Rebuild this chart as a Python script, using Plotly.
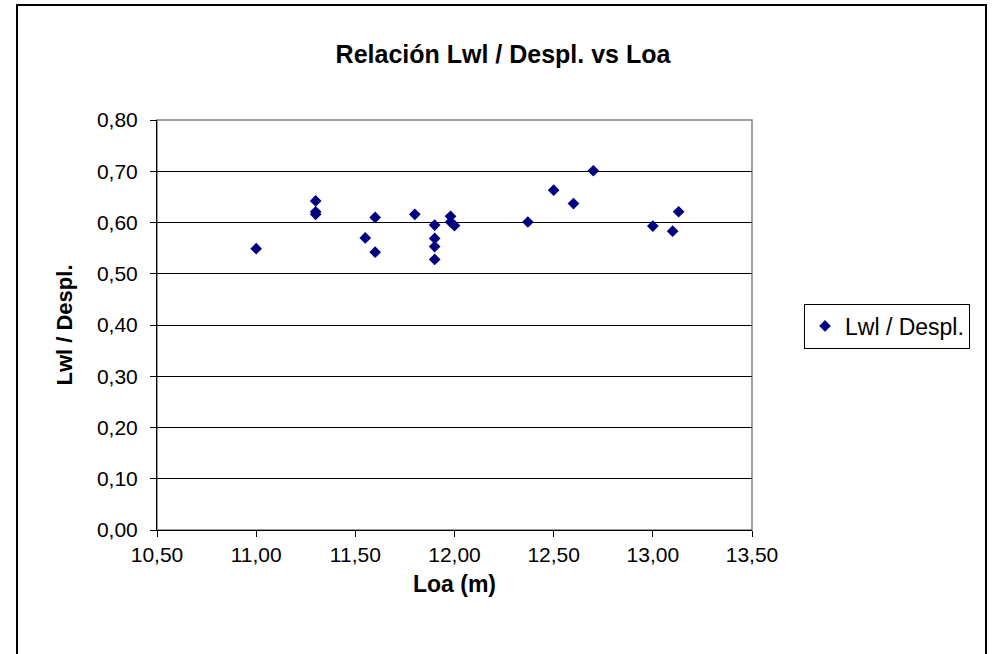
import plotly.graph_objects as go

loa = [11.00, 11.30, 11.30, 11.30, 11.55, 11.60, 11.60, 11.80, 11.90, 11.90, 11.90, 11.90,
       11.98, 11.98, 12.00, 12.37, 12.50, 12.60, 12.70, 13.00, 13.10, 13.13]
ratio = [0.549, 0.642, 0.621, 0.616, 0.570, 0.610, 0.542, 0.616, 0.595, 0.569, 0.553, 0.528,
         0.612, 0.601, 0.594, 0.601, 0.663, 0.637, 0.701, 0.593, 0.583, 0.621]

title = "Relación Lwl / Despl. vs Loa"
series_name = "Lwl / Despl."
x_title = "Loa (m)"
y_title = "Lwl / Despl."

W, H = 993, 654
L, R, T, B = 157, 241, 120, 124
pw, ph = W - L - R, H - T - B

def px(X):
    return (X - L) / pw

def py(Y):
    return (H - B - Y) / ph

fig = go.Figure()
fig.add_trace(go.Scatter(
    x=loa, y=ratio, mode="markers", name=series_name,
    marker=dict(symbol="diamond", size=9, color="#000080", line=dict(width=0)),
))

font = "Liberation Sans, Arial, sans-serif"
fig.update_layout(
    width=W, height=H,
    margin=dict(l=L, r=R, t=T, b=B),
    paper_bgcolor="white", plot_bgcolor="white",
    separators=",.",
    font=dict(family=font, size=21, color="black"),
    title=dict(text="<b>" + title + "</b>", x=503 / W, xanchor="center",
               y=1 - 54 / H, yanchor="middle", font=dict(size=25)),
    showlegend=True,
    legend=dict(x=px(804), y=py(326), xanchor="left", yanchor="middle",
                bordercolor="black", borderwidth=1, bgcolor="white",
                font=dict(size=23), itemsizing="trace", itemwidth=30,
                tracegroupgap=0),
    xaxis=dict(range=[10.5, 13.5], dtick=0.5, tick0=10.5, tickformat=".2f",
               showgrid=False, zeroline=False,
               showline=True, linecolor="black", linewidth=1,
               ticks="outside", ticklen=6, tickcolor="black",
               ticklabelstandoff=0,
               title=dict(text="<b>" + x_title + "</b>", standoff=10, font=dict(size=23))),
    yaxis=dict(range=[0, 0.8], dtick=0.1, tickformat=".2f",
               showgrid=True, gridcolor="black", gridwidth=1, zeroline=False,
               showline=True, linecolor="black", linewidth=1,
               ticks="outside", ticklen=6, tickcolor="black",
               ticklabelstandoff=8,
               title=dict(text="<b>" + y_title + "</b>", standoff=18, font=dict(size=22))),
    shapes=[
        dict(type="rect", xref="paper", yref="paper", x0=0, x1=1, y0=0, y1=1,
             line=dict(color="#808080", width=1.5), layer="below"),
        dict(type="rect", xref="paper", yref="paper",
             x0=px(17), x1=px(986), y0=py(665), y1=py(5),
             line=dict(color="black", width=2), layer="below"),
    ],
)

fig.write_html("out.html")
